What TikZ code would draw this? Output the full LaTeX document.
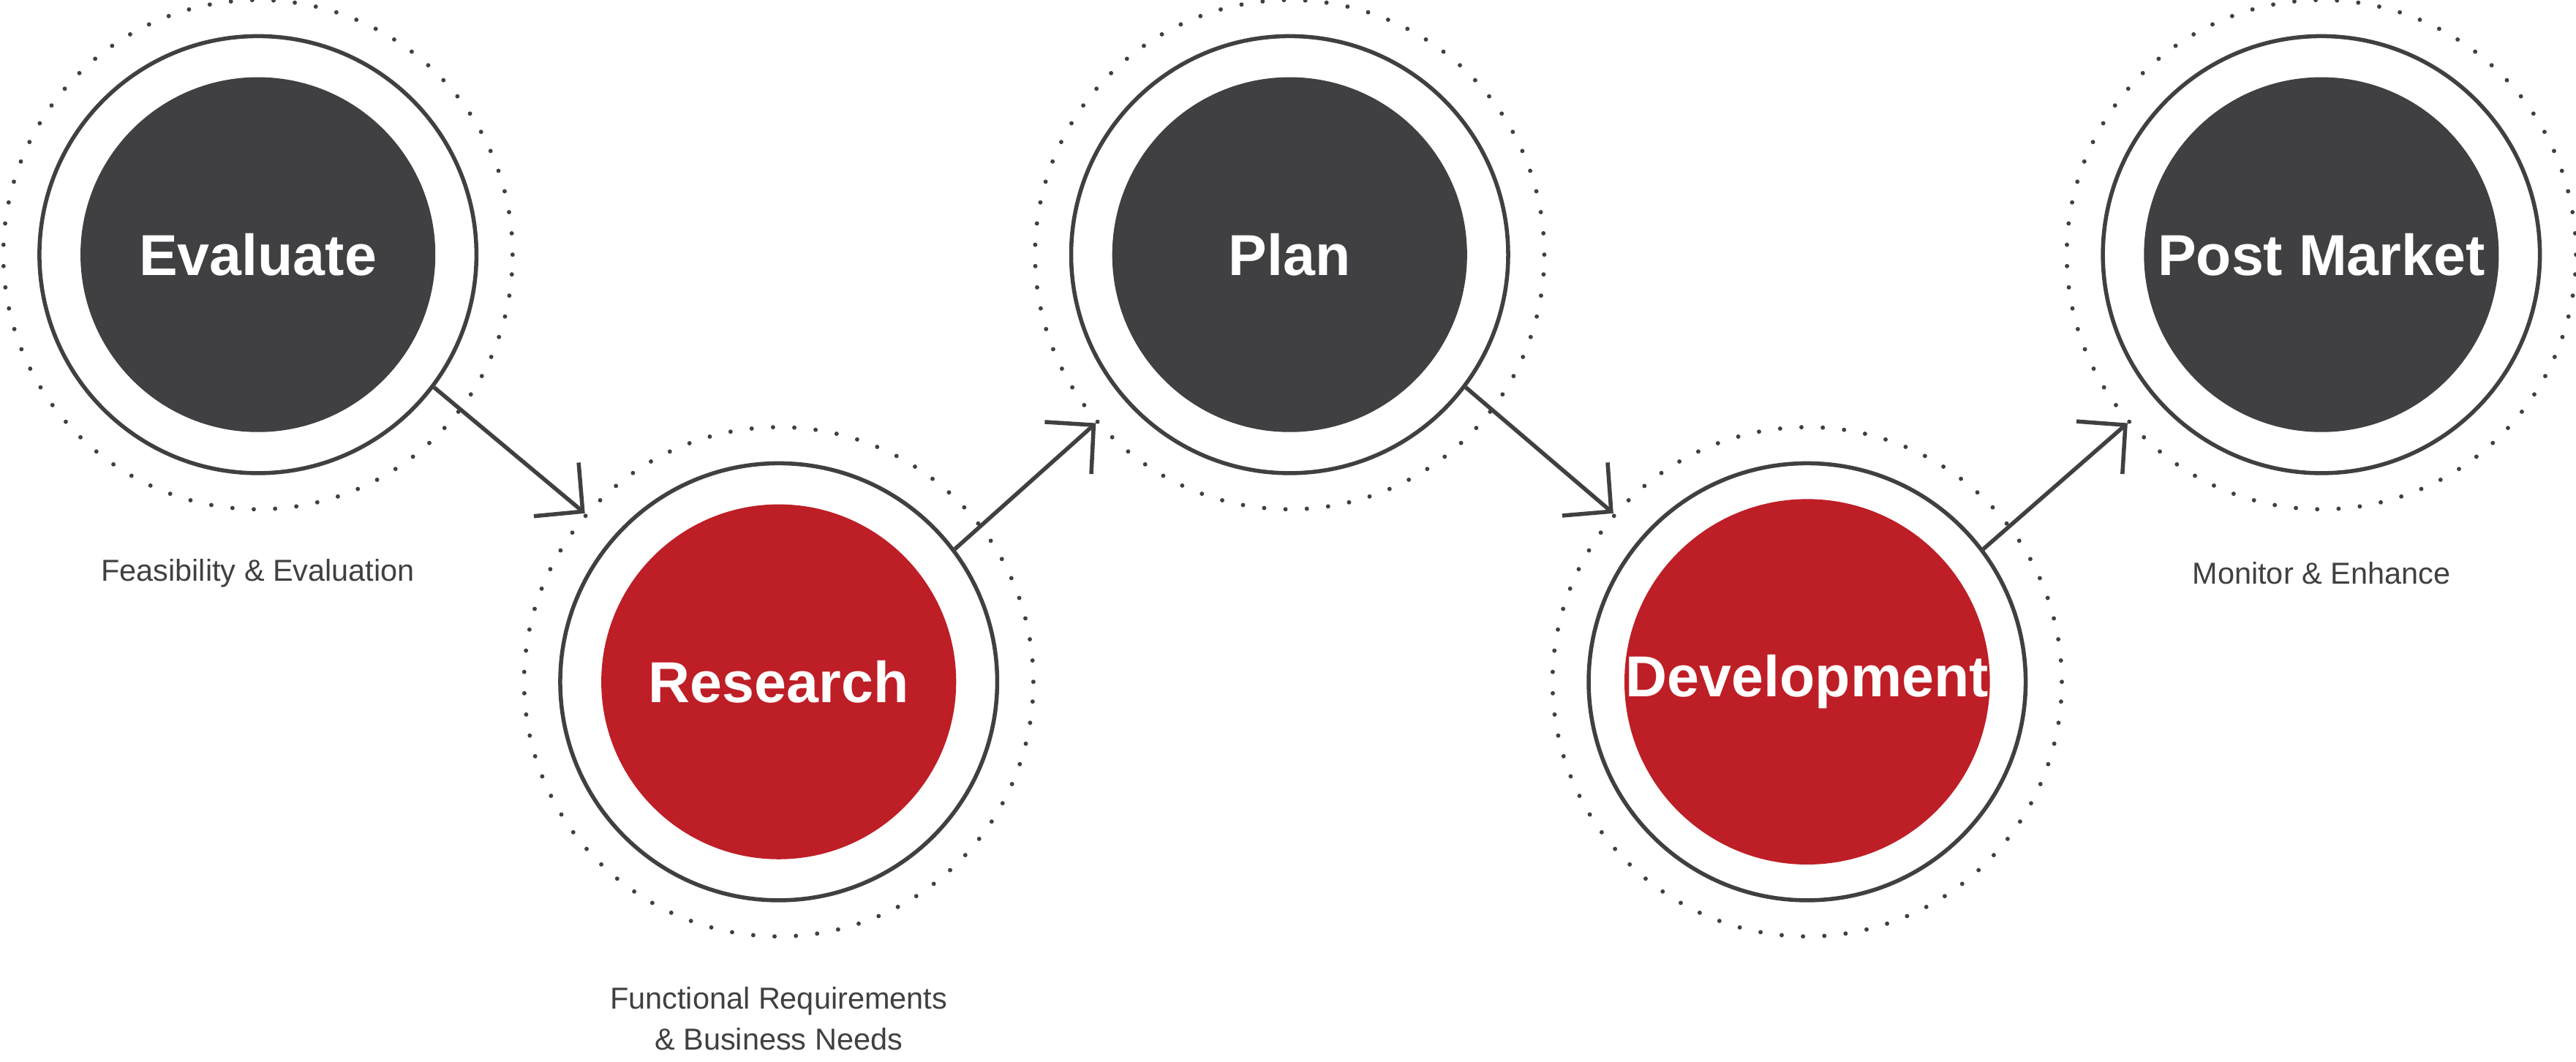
\documentclass[tikz,border=0pt]{standalone}
\usepackage{fontspec}
\setmainfont{Liberation Sans}
\usepackage{tikz}
\usetikzlibrary{calc,arrows.meta}
\definecolor{darkgrey}{HTML}{404042}
\definecolor{stepred}{HTML}{BE1E26}

\begin{document}
\begin{tikzpicture}
			\tikzstyle{core}=[circle, minimum size=4.32cm, inner sep=0pt, text=white, font=\fontsize{20}{24}\selectfont\bfseries]
			\tikzstyle{ring}=[circle, minimum size=5.32cm, draw=darkgrey, line width=1.4pt]
			\tikzstyle{dots}=[circle, minimum size=6.2cm, draw=darkgrey, line width=1.5pt, line cap=round, dash pattern=on 0pt off 0.26cm]
			\tikzstyle{flow}=[-{Straight Barb[length=0.42cm,width=0.85cm]}, draw=darkgrey, line width=1.4pt]
			\tikzstyle{caption}=[text=darkgrey, font=\fontsize{10.5}{14}\selectfont, align=center]
			
			\useasboundingbox (0,0) rectangle (31.36,12.92);
			
			% dark steps on top, red steps below
			\node[dots] (evalDots) at (3.14,9.82) {};
			\node[ring] (evalRing) at (3.14,9.82) {};
			\node[core, fill=darkgrey] (eval) at (3.14,9.82) {Evaluate};
			
			\node[dots] (resDots) at (9.48,4.62) {};
			\node[ring] (resRing) at (9.48,4.62) {};
			\node[core, fill=stepred] (res) at (9.48,4.62) {Research};
			
			\node[dots] (planDots) at (15.7,9.82) {};
			\node[ring] (planRing) at (15.7,9.82) {};
			\node[core, fill=darkgrey] (plan) at (15.7,9.82) {Plan};
			
			\node[dots] (devDots) at (22.0,4.62) {};
			\node[ring] (devRing) at (22.0,4.62) {};
			\node[core, fill=stepred] (dev) at (22.0,4.62) {Development};
			
			\node[dots] (postDots) at (28.26,9.82) {};
			\node[ring] (postRing) at (28.26,9.82) {};
			\node[core, fill=darkgrey] (post) at (28.26,9.82) {Post Market};
			
			% captions
			\node[caption] (evalText) at (3.14,5.94) {Feasibility \& Evaluation};
			\node[caption] (resText) at (9.48,0.52) {Functional Requirements\\\& Business Needs};
			\node[caption] (postText) at (28.26,5.94) {Monitor \& Enhance};
			
			% connectors
			\draw[flow] (evalRing.-37) -- (resDots.139);
			\draw[flow] (resRing.37) -- (planDots.-139);
			\draw[flow] (planRing.-37) -- (devDots.139);
			\draw[flow] (devRing.37) -- (postDots.-139);
			
\end{tikzpicture}
\end{document}
